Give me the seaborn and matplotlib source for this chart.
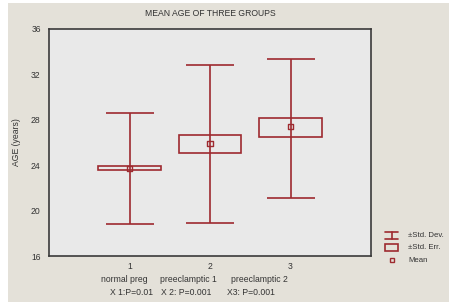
import matplotlib
matplotlib.use("Agg")
import matplotlib.pyplot as plt
import seaborn as sns
import pandas as pd
from matplotlib.lines import Line2D
from matplotlib.patches import Rectangle

# ---- data ----
groups = [1, 2, 3]
group_names = ["normal preg", "preeclamptic 1", "preeclamptic 2"]
p_labels = ["X 1:P=0.01", "X 2: P=0.001", "X3: P=0.001"]
means = [23.7, 25.9, 27.4]
sd_low = [18.8, 18.9, 21.1]
sd_high = [28.6, 32.8, 33.4]
se_low = [23.55, 25.05, 26.5]
se_high = [23.9, 26.7, 28.2]
legend_labels = ["\u00b1Std. Dev.", "\u00b1Std. Err.", "Mean"]

df = pd.DataFrame({"group": groups, "mean": means,
                   "sd_low": sd_low, "sd_high": sd_high,
                   "se_low": se_low, "se_high": se_high})

sns.set_style("white")
plt.rcParams["font.family"] = ["Liberation Sans", "DejaVu Sans"]

RED = "#9e2a2f"
FIG_BG = "#e4e1d9"
AX_BG = "#e9e9e9"
TXT = "#333333"
FS = 6.2

W, H = 449, 302
fig = plt.figure(figsize=(4.49, 3.02), dpi=100, facecolor="white")
fig.patches.append(Rectangle((8 / W, 0), 1, 1 - 3 / H, transform=fig.transFigure,
                             facecolor=FIG_BG, edgecolor="none", zorder=-10))
ax = fig.add_axes([49 / W, 1 - 256 / H, (371 - 49) / W, (256 - 29) / H])
ax.set_facecolor(AX_BG)

# SD whiskers
err_low = df["mean"] - df["sd_low"]
err_high = df["sd_high"] - df["mean"]
ax.errorbar(df["group"], df["mean"], yerr=[err_low, err_high], fmt="none",
            ecolor=RED, elinewidth=1.2, capsize=17, capthick=1.2, zorder=2)

# SE boxes
ax.bar(df["group"], df["se_high"] - df["se_low"], bottom=df["se_low"], width=0.78,
       facecolor=AX_BG, edgecolor=RED, linewidth=1.2, zorder=3)
ax.vlines(df["group"], df["se_low"], df["se_high"], color=RED, linewidth=1.2, zorder=4)

# means
sns.scatterplot(data=df, x="group", y="mean", marker="s", s=13, facecolor="none",
                edgecolor=RED, linewidth=1.0, ax=ax, zorder=5, legend=False)

ax.set_xlim(0, 4)
ax.set_ylim(16, 36)
ax.set_yticks([16, 20, 24, 28, 32, 36])
ax.set_xticks(groups)
ax.set_xticklabels([str(g) for g in groups])
ax.tick_params(axis="both", length=0, labelsize=FS, colors=TXT)
ax.tick_params(axis="y", pad=6)
ax.tick_params(axis="x", pad=4)
ax.set_xlabel("")
ax.set_ylabel("AGE (years)", fontsize=FS, color=TXT, labelpad=7)
for s in ax.spines.values():
    s.set_visible(True)
    s.set_color("#3a3a3a")
    s.set_linewidth(1.2)

ax.set_title("MEAN AGE OF THREE GROUPS", fontsize=FS, color=TXT, pad=9)

# group names and p-values under the axis
name_x = [0.93, 1.73, 2.62]
p_x = [1.02, 1.70, 2.51]
for nm, xx in zip(group_names, name_x):
    ax.text(xx, -0.105, nm, transform=ax.get_xaxis_transform(), ha="center",
            va="center", fontsize=FS, color=TXT)
for pl, xx in zip(p_labels, p_x):
    ax.text(xx, -0.162, pl, transform=ax.get_xaxis_transform(), ha="center",
            va="center", fontsize=FS, color=TXT)

# legend (drawn as symbols in figure pixel space)
def fx(px):
    return px / W


def fy(py):
    return 1 - py / H


tf = fig.transFigure
lw = 1.2
# SD symbol
fig.lines.append(Line2D([fx(385), fx(398)], [fy(232), fy(232)], color=RED, lw=lw, transform=tf))
fig.lines.append(Line2D([fx(385), fx(398)], [fy(238.5), fy(238.5)], color=RED, lw=lw, transform=tf))
fig.lines.append(Line2D([fx(391.5), fx(391.5)], [fy(232), fy(238.5)], color=RED, lw=lw, transform=tf))
# SE symbol
fig.patches.append(Rectangle((fx(385), fy(251)), (398 - 385) / W, 7 / H, transform=tf,
                             facecolor="none", edgecolor=RED, lw=lw))
# Mean symbol
fig.lines.append(Line2D([fx(391.5)], [fy(260)], marker="s", markersize=3,
                        markerfacecolor="none", markeredgecolor=RED, markeredgewidth=1.0,
                        linestyle="none", transform=tf))
for lab, yy in zip(legend_labels, [235.5, 247.5, 261]):
    fig.text(fx(408), fy(yy), lab, fontsize=5.6, color=TXT, ha="left", va="center")

fig.savefig("out.png", dpi=100, facecolor=fig.get_facecolor())
